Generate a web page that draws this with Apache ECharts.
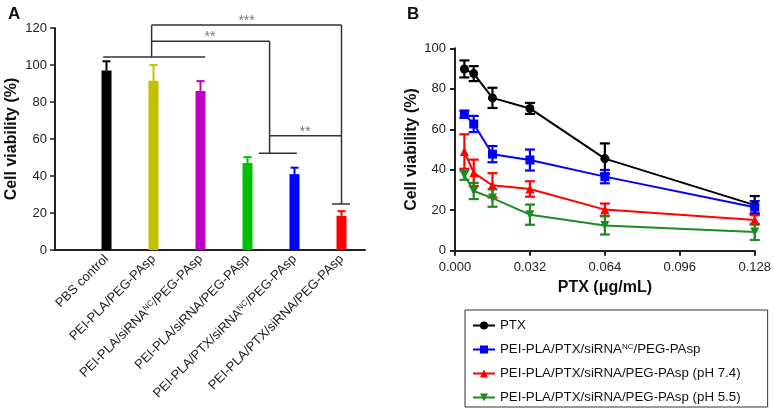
<!DOCTYPE html>
<html><head><meta charset="utf-8">
<script src="https://cdn.jsdelivr.net/npm/echarts@6/dist/echarts.min.js"></script>
<style>html,body{margin:0;padding:0;background:#fff}#c{width:774px;height:408px}</style>
</head><body><div id="c"></div>
<script>
const FONT = '"Liberation Sans", Arial, sans-serif';

// ---------- Panel A data ----------
const groupsA = ['PBS control', 'PEI-PLA/PEG-PAsp', 'PEI-PLA/siRNA{sup|NC}/PEG-PAsp', 'PEI-PLA/siRNA/PEG-PAsp', 'PEI-PLA/PTX/siRNA{sup|NC}/PEG-PAsp', 'PEI-PLA/PTX/siRNA/PEG-PAsp'];
const meansA = [97, 91.5, 86, 47, 41, 18.5];
const errA = [5, 8.5, 5.3, 3.2, 3.5, 2.5];
const colorsA = ['#000000', '#c2c000', '#c000c0', '#00c000', '#0000ff', '#ff0000'];
// significance bracket segments: [x1, y1, x2, y2] (category index, % viability)
const bracketSegs = [
  [-0.07, 104.3, 2.1, 104.3],
  [0.96, 104.3, 0.96, 121.6],
  [0.96, 121.6, 5, 121.6],
  [5, 121.6, 5, 24.9],
  [4.8, 24.9, 5.18, 24.9],
  [0.96, 112.8, 3.47, 112.8],
  [3.47, 112.8, 3.47, 52.3],
  [3.24, 52.3, 4.05, 52.3],
  [3.47, 61.8, 5, 61.8]
];
// significance labels: [text, x (category index), y (% viability)]
const sigLabels = [['***', 2.98, 121.6], ['**', 2.2, 112.8], ['**', 4.23, 61.8]];

// ---------- Panel B data ----------
const doseB = [0.004, 0.008, 0.016, 0.032, 0.064, 0.128];
const ptxB = [89.8, 87.5, 75.5, 70.3, 45.5, 22.5];
const ptxErrB = [4.2, 3.7, 5, 2.7, 7.5, 4.5];
const ncB = [67.4, 62.6, 47.7, 44.8, 36.6, 21.5];
const ncErrB = [1.8, 4, 4, 5.2, 3.3, 3];
const ph74B = [49, 38.5, 32.3, 30.5, 20.3, 15.2];
const ph74ErrB = [8.5, 6.5, 6, 3.8, 3, 2.3];
const ph55B = [37.3, 29.5, 26, 17.8, 12.5, 9.3];
const ph55ErrB = [2.3, 4, 4.3, 5, 4.5, 4];
const seriesNamesB = ['PTX', 'PEI-PLA/PTX/siRNANC/PEG-PAsp', 'PEI-PLA/PTX/siRNA/PEG-PAsp (pH 7.4)', 'PEI-PLA/PTX/siRNA/PEG-PAsp (pH 5.5)'];
const legendLabelsB = ['PTX', 'PEI-PLA/PTX/siRNA{sup|NC}/PEG-PAsp', 'PEI-PLA/PTX/siRNA/PEG-PAsp (pH 7.4)', 'PEI-PLA/PTX/siRNA/PEG-PAsp (pH 5.5)'];
const colorsB = ['#000000', '#0000ff', '#ff0000', '#1f8a24'];
const symbolsB = ['circle', 'rect', 'triangle', 'triangle'];
const symbolRotB = [0, 0, 0, 180];

const AX = '#222';
const chart = echarts.init(document.getElementById('c'), null, {renderer: 'canvas'});

function ptA(api, x, y) {
  const base = Math.max(0, Math.min(groupsA.length - 1, Math.round(x)));
  const p = api.coord([base, y]);
  const bw = api.size([1, 0])[0];
  return [p[0] + (x - base) * bw, p[1]];
}

const valsB = [ptxB, ncB, ph74B, ph55B];
const errsB = [ptxErrB, ncErrB, ph74ErrB, ph55ErrB];

const series = [
  {
    type: 'bar', xAxisIndex: 0, yAxisIndex: 0, barWidth: 10, z: 3,
    data: meansA.map((v, i) => ({value: v, itemStyle: {color: colorsA[i]}}))
  },
  {
    type: 'custom', xAxisIndex: 0, yAxisIndex: 0, z: 2,
    data: meansA.map((v, i) => [i, v, v + errA[i]]),
    renderItem(params, api) {
      const i = api.value(0);
      const b = api.coord([i, api.value(1)]);
      const t = api.coord([i, api.value(2)]);
      const c = colorsA[i];
      return {type: 'group', children: [
        {type: 'line', shape: {x1: b[0], y1: b[1], x2: t[0], y2: t[1]}, style: {stroke: c, lineWidth: 2}},
        {type: 'line', shape: {x1: t[0] - 4, y1: t[1], x2: t[0] + 4, y2: t[1]}, style: {stroke: c, lineWidth: 2}}
      ]};
    }
  },
  {
    type: 'custom', xAxisIndex: 0, yAxisIndex: 0, z: 4, clip: false,
    data: bracketSegs.map((s, i) => [0, s[1]]),
    renderItem(params, api) {
      const s = bracketSegs[params.dataIndex];
      const p1 = ptA(api, s[0], s[1]);
      const p2 = ptA(api, s[2], s[3]);
      const children = [{type: 'line', shape: {x1: p1[0], y1: p1[1], x2: p2[0], y2: p2[1]}, style: {stroke: '#333', lineWidth: 1.5}}];
      if (params.dataIndex === 0) {
        const cs = params.coordSys;
        const y0 = api.coord([0, 0])[1];
        children.push({type: 'line', shape: {x1: cs.x - 29, y1: y0, x2: cs.x + 1, y2: y0}, style: {stroke: AX, lineWidth: 2}});
        sigLabels.forEach(l => {
          const p = ptA(api, l[1], l[2]);
          children.push({type: 'text', x: p[0], y: p[1] + 3, style: {text: l[0], fill: '#777', font: '14px ' + FONT, align: 'center', verticalAlign: 'bottom'}});
        });
      }
      return {type: 'group', children};
    }
  }
];

seriesNamesB.forEach((name, k) => {
  series.push({
    name, type: 'line', xAxisIndex: 1, yAxisIndex: 1, z: 5,
    data: doseB.map((d, i) => [d, valsB[k][i]]),
    symbol: symbolsB[k], symbolRotate: symbolRotB[k], symbolSize: 9,
    color: colorsB[k],
    lineStyle: {color: colorsB[k], width: 2},
    itemStyle: {color: colorsB[k]}
  });
  series.push({
    type: 'custom', xAxisIndex: 1, yAxisIndex: 1, z: 4,
    data: doseB.map((d, i) => [d, valsB[k][i] - errsB[k][i], valsB[k][i] + errsB[k][i]]),
    renderItem(params, api) {
      const lo = api.coord([api.value(0), api.value(1)]);
      const hi = api.coord([api.value(0), api.value(2)]);
      const c = colorsB[k];
      const st = {stroke: c, lineWidth: 2.2};
      return {type: 'group', children: [
        {type: 'line', shape: {x1: lo[0], y1: lo[1], x2: hi[0], y2: hi[1]}, style: st},
        {type: 'line', shape: {x1: hi[0] - 5, y1: hi[1], x2: hi[0] + 5, y2: hi[1]}, style: st},
        {type: 'line', shape: {x1: lo[0] - 5, y1: lo[1], x2: lo[0] + 5, y2: lo[1]}, style: st}
      ]};
    }
  });
});

const option = {
  animation: false,
  backgroundColor: '#fff',
  textStyle: {fontFamily: FONT},
  title: [
    {text: 'A', left: 3, top: 1, textStyle: {fontFamily: FONT, fontSize: 17, fontWeight: 'bold', color: '#111'}},
    {text: 'B', left: 402, top: 1, textStyle: {fontFamily: FONT, fontSize: 17, fontWeight: 'bold', color: '#111'}}
  ],
  grid: [
    {left: 83, right: 409, top: 28, bottom: 158},
    {left: 455, right: 17, top: 48.3, bottom: 157.3}
  ],
  xAxis: [
    {
      type: 'category', gridIndex: 0, data: groupsA,
      axisLine: {lineStyle: {color: AX, width: 2}},
      axisTick: {show: false},
      axisLabel: {interval: 0, rotate: 45, margin: 7, fontSize: 13, color: '#222', fontFamily: FONT,
        rich: {sup: {fontSize: 8, verticalAlign: 'top', color: '#222', fontFamily: FONT}}}
    },
    {
      type: 'value', gridIndex: 1, min: 0, max: 0.128, interval: 0.032,
      axisLine: {show: true, onZero: false, lineStyle: {color: AX, width: 2}},
      axisTick: {show: true, length: 5, lineStyle: {width: 2, color: AX}},
      splitLine: {show: false},
      axisLabel: {margin: 10, fontSize: 13, color: '#222', fontFamily: FONT, formatter: v => v.toFixed(3)},
      name: 'PTX (μg/mL)', nameLocation: 'middle', nameGap: 29,
      nameTextStyle: {fontFamily: FONT, fontSize: 16, fontWeight: 'bold', color: '#111'}
    }
  ],
  yAxis: [
    {
      type: 'value', gridIndex: 0, min: 0, max: 120, interval: 20, offset: 28,
      axisLine: {show: true, lineStyle: {color: AX, width: 2}},
      axisTick: {show: true, length: 5, lineStyle: {width: 1.5, color: AX}},
      splitLine: {show: false},
      axisLabel: {margin: 8, fontSize: 13, color: '#222', fontFamily: FONT},
      name: 'Cell viability (%)', nameLocation: 'middle', nameGap: 35,
      nameTextStyle: {fontFamily: FONT, fontSize: 16, fontWeight: 'bold', color: '#111'}
    },
    {
      type: 'value', gridIndex: 1, min: 0, max: 100, interval: 20,
      axisLine: {show: true, lineStyle: {color: AX, width: 2}},
      axisTick: {show: true, length: 5, lineStyle: {width: 2, color: AX}},
      splitLine: {show: false},
      axisLabel: {margin: 9, fontSize: 13, color: '#222', fontFamily: FONT},
      name: 'Cell viability (%)', nameLocation: 'middle', nameGap: 35,
      nameTextStyle: {fontFamily: FONT, fontSize: 16, fontWeight: 'bold', color: '#111'}
    }
  ],
  legend: {
    data: seriesNamesB, orient: 'vertical', left: 465, top: 310, height: 86,
    itemWidth: 22, itemHeight: 10, itemGap: 11,
    padding: [9, 27, 3, 7], borderColor: '#333', borderWidth: 1, selectedMode: false,
    formatter: name => legendLabelsB[seriesNamesB.indexOf(name)],
    textStyle: {fontFamily: FONT, fontSize: 13.3, color: '#111',
      rich: {sup: {fontSize: 8, verticalAlign: 'top', color: '#111', fontFamily: FONT}}}
  },
  series
};
chart.setOption(option);
</script>
</body></html>
